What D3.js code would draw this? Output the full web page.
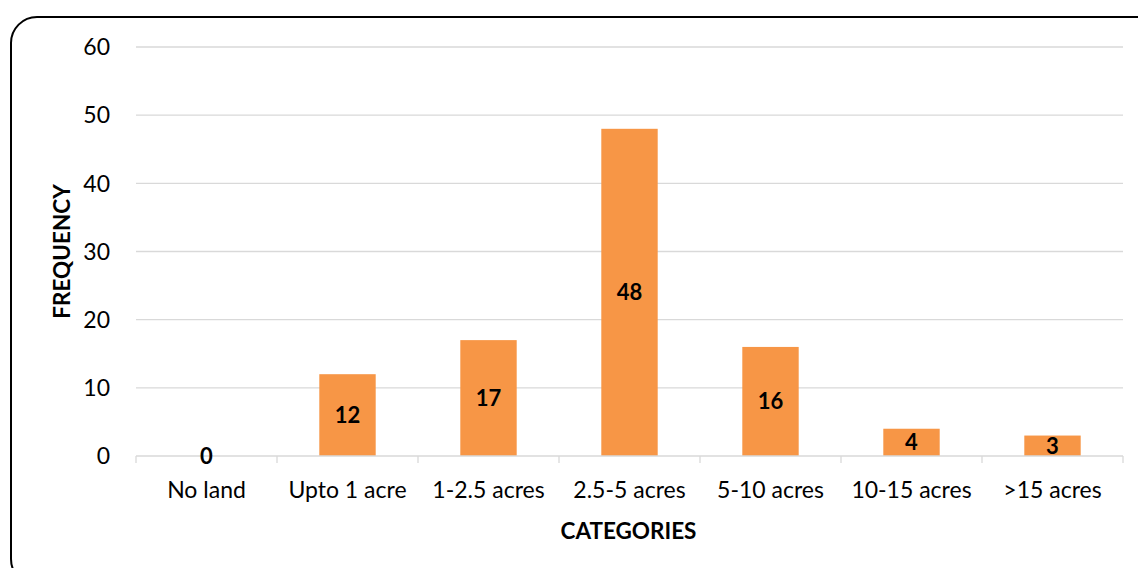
<!DOCTYPE html>
<html>
<head>
<meta charset="utf-8">
<script src="https://cdn.jsdelivr.net/npm/d3@7"></script>
<style>
  html, body { margin: 0; padding: 0; background: #fff; }
  svg { display: block; font-family: Lato, "Open Sans", sans-serif; }
</style>
</head>
<body>
<svg id="chart" width="1138" height="568"></svg>
<script>
// Land holding categories and their frequencies
const categories = ["No land", "Upto 1 acre", "1-2.5 acres", "2.5-5 acres", "5-10 acres", "10-15 acres", ">15 acres"];
const frequencies = [0, 12, 17, 48, 16, 4, 3];
const yTicks = [0, 10, 20, 30, 40, 50, 60];

const svg = d3.select("#chart");
const W = 1138, H = 568;
const m = { left: 136, right: 15, top: 47, bottom: 112 };

// Rounded outer frame
svg.append("rect")
  .attr("x", 11).attr("y", 17)
  .attr("width", W + 20).attr("height", H)
  .attr("rx", 26).attr("ry", 26)
  .attr("fill", "#fff").attr("stroke", "#000").attr("stroke-width", 2);

const x = d3.scaleBand().domain(categories).range([m.left, W - m.right]).paddingInner(0.6).paddingOuter(0.3);
const y = d3.scaleLinear().domain([0, 60]).range([H - m.bottom, m.top]);

// Horizontal gridlines
svg.append("g").selectAll("line").data(yTicks.filter(d => d > 0)).join("line")
  .attr("x1", m.left).attr("x2", W - m.right)
  .attr("y1", d => y(d)).attr("y2", d => y(d))
  .attr("stroke", "#d9d9d9").attr("stroke-width", 1.3);

// Y tick labels
svg.append("g").selectAll("text").data(yTicks).join("text")
  .attr("x", 110).attr("y", d => y(d))
  .attr("dy", "0.36em").attr("text-anchor", "end")
  .attr("font-size", 23).attr("fill", "#000")
  .text(d => d);

// Bars
svg.append("g").selectAll("rect").data(frequencies).join("rect")
  .attr("x", (d, i) => x(categories[i]))
  .attr("width", x.bandwidth())
  .attr("y", d => y(d))
  .attr("height", d => y(0) - y(d))
  .attr("fill", "#F79646");

// X axis baseline with category boundary ticks
const bounds = d3.range(categories.length + 1).map(i => m.left + i * (W - m.right - m.left) / categories.length);
svg.append("line")
  .attr("x1", m.left).attr("x2", W - m.right)
  .attr("y1", y(0)).attr("y2", y(0))
  .attr("stroke", "#d9d9d9").attr("stroke-width", 1.3);
svg.append("g").selectAll("line").data(bounds).join("line")
  .attr("x1", d => d).attr("x2", d => d)
  .attr("y1", y(0)).attr("y2", y(0) + 7)
  .attr("stroke", "#d9d9d9").attr("stroke-width", 1.3);

// Category labels
svg.append("g").selectAll("text").data(categories).join("text")
  .attr("x", d => x(d) + x.bandwidth() / 2)
  .attr("y", 498)
  .attr("text-anchor", "middle")
  .attr("font-size", 23).attr("fill", "#000")
  .text(d => d);

// Value labels centred in each bar
svg.append("g").selectAll("text").data(frequencies).join("text")
  .attr("x", (d, i) => x(categories[i]) + x.bandwidth() / 2)
  .attr("y", d => (y(d) + y(0)) / 2)
  .attr("dy", "0.36em")
  .attr("text-anchor", "middle")
  .attr("font-size", 22).attr("font-weight", "bold").attr("fill", "#000")
  .text(d => d);

// Axis titles
svg.append("text")
  .attr("x", (m.left + W - m.right) / 2 - 1).attr("y", 539)
  .attr("text-anchor", "middle")
  .attr("font-size", 22.5).attr("font-weight", "bold")
  .text("CATEGORIES");

svg.append("text")
  .attr("transform", `translate(70, ${y(30)}) rotate(-90)`)
  .attr("text-anchor", "middle")
  .attr("font-size", 22.5).attr("font-weight", "bold")
  .text("FREQUENCY");
</script>
</body>
</html>
